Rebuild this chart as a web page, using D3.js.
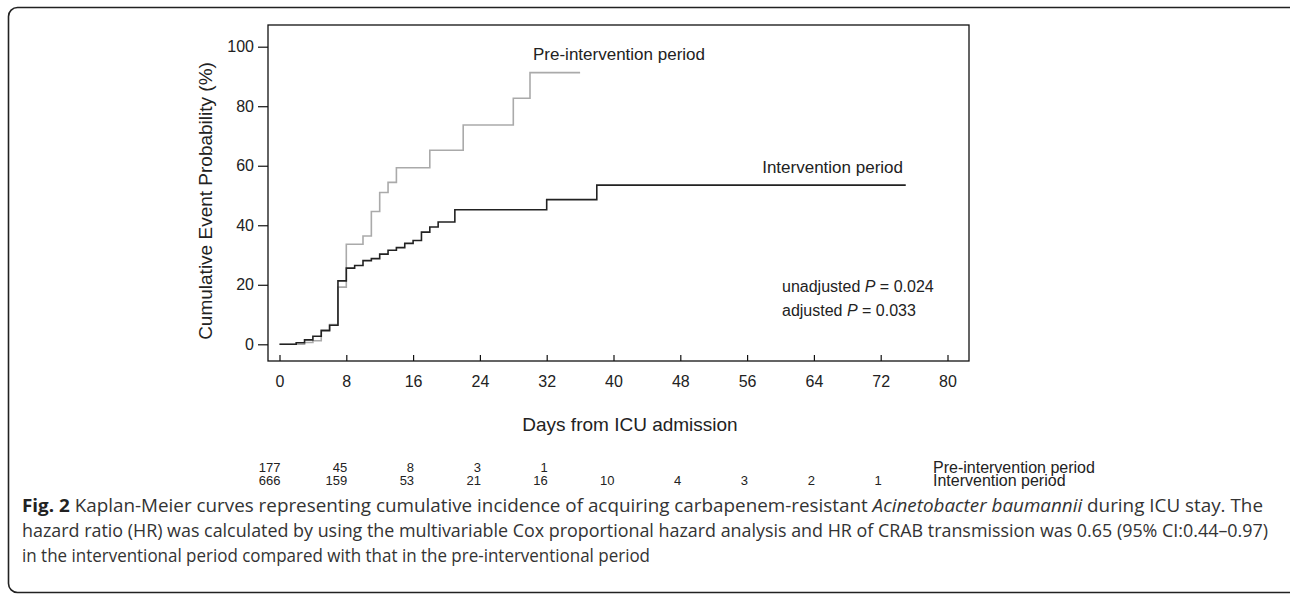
<!DOCTYPE html>
<html>
<head>
<meta charset="utf-8">
<script src="https://cdn.jsdelivr.net/npm/d3@7"></script>
<style>
  body { margin: 0; background: #fff; }
  svg text { font-family: "Liberation Sans", Arial, sans-serif; fill: #222; }
  svg text.cap { font-family: "Open Sans", "Noto Sans", sans-serif; fill: #333; }
</style>
</head>
<body>
<svg id="chart" width="1290" height="595"></svg>
<script>
// x ticks (days) and y ticks (%)
const xTicks = [0, 8, 16, 24, 32, 40, 48, 56, 64, 72, 80];
const yTicks = [0, 20, 40, 60, 80, 100];

// Pre-intervention period: step times (days) and cumulative event probability (%)
const preDays   = [0, 3, 4, 5, 6, 7, 8, 10, 11, 12, 13, 14, 18, 22, 28, 30, 36];
const preValues = [0, 0.6, 1.2, 4.8, 6.6, 19.2, 33.6, 36.4, 44.6, 51.0, 54.4, 59.3, 65.2, 73.7, 82.7, 91.3, 91.3];

// Intervention period
const intDays   = [0, 2, 3, 4, 5, 6, 7, 8, 9, 10, 11, 12, 13, 14, 15, 16, 17, 18, 19, 21, 32, 38, 75];
const intValues = [0, 0.5, 1.5, 2.7, 4.6, 6.4, 21.3, 25.6, 26.5, 28.1, 28.8, 30.3, 31.6, 32.5, 33.9, 34.9, 37.7, 39.4, 41.1, 45.2, 48.6, 53.5, 53.5];

// numbers at risk, at days 0, 8, 16, ...
const riskDays = [0, 8, 16, 24, 32, 40, 48, 56, 64, 72];
const preRisk  = [177, 45, 8, 3, 1];
const intRisk  = [666, 159, 53, 21, 16, 10, 4, 3, 2, 1];

const captionLines = [
  [["Fig. 2", "bold"], [" Kaplan-Meier curves representing cumulative incidence of acquiring carbapenem-resistant ", "normal"], ["Acinetobacter baumannii", "italic"], [" during ICU stay. The", "normal"]],
  [["hazard ratio (HR) was calculated by using the multivariable Cox proportional hazard analysis and HR of CRAB transmission was 0.65 (95% CI:0.44\u20130.97)", "normal"]],
  [["in the interventional period compared with that in the pre-interventional period", "normal"]]
];
const captionWidths = [1241, 1246, 628];

const svg = d3.select("#chart");

// outer rounded border
svg.append("rect")
   .attr("x", 8.5).attr("y", 7.5)
   .attr("width", 1300).attr("height", 585)
   .attr("rx", 9)
   .attr("fill", "none").attr("stroke", "#222").attr("stroke-width", 1.6);

const x = d3.scaleLinear().domain([0, 80]).range([279.5, 947.5]);
const y = d3.scaleLinear().domain([0, 100]).range([344.3, 46.7]);

// plot frame
svg.append("rect")
   .attr("x", 268).attr("y", 25)
   .attr("width", 701).attr("height", 336)
   .attr("fill", "none").attr("stroke", "#111").attr("stroke-width", 1.3);

// y axis (ticks out to the left)
const yAxis = svg.append("g")
   .attr("transform", "translate(268,0)")
   .call(d3.axisLeft(y).tickValues(yTicks).tickSize(10).tickPadding(4));
yAxis.select(".domain").remove();
yAxis.selectAll("line").attr("stroke", "#111").attr("stroke-width", 1.2);
yAxis.selectAll("text").attr("font-size", 16).attr("font-family", null).attr("fill", "#222");

// x axis: ticks point up from the bottom of the frame
const xAxis = svg.append("g")
   .attr("transform", "translate(0,361)")
   .call(d3.axisBottom(x).tickValues(xTicks).tickSizeInner(-6).tickSizeOuter(0).tickPadding(15));
xAxis.select(".domain").remove();
xAxis.selectAll("line").attr("stroke", "#111").attr("stroke-width", 1.2);
xAxis.selectAll("text").attr("font-size", 16).attr("font-family", null).attr("fill", "#222");

// axis titles
svg.append("text")
   .attr("x", 630).attr("y", 431)
   .attr("text-anchor", "middle").attr("font-size", 19)
   .text("Days from ICU admission");
svg.append("text")
   .attr("transform", "translate(212,201) rotate(-90)")
   .attr("text-anchor", "middle").attr("font-size", 19)
   .text("Cumulative Event Probability (%)");

// curves
const step = d3.line()
   .x(d => x(d[0]))
   .y(d => y(d[1]))
   .curve(d3.curveStepAfter);

svg.append("path")
   .datum(d3.zip(preDays, preValues))
   .attr("d", step)
   .attr("fill", "none").attr("stroke", "#aaa").attr("stroke-width", 1.6);

svg.append("path")
   .datum(d3.zip(intDays, intValues))
   .attr("d", step)
   .attr("fill", "none").attr("stroke", "#222").attr("stroke-width", 1.6);

// curve labels
svg.append("text")
   .attr("x", 533).attr("y", 60).attr("font-size", 17)
   .text("Pre-intervention period");
svg.append("text")
   .attr("x", 903).attr("y", 172.5).attr("font-size", 17)
   .attr("text-anchor", "end")
   .text("Intervention period");

// p values
const pv = svg.append("g").attr("font-size", 16);
const p1 = pv.append("text").attr("x", 782).attr("y", 292);
p1.append("tspan").text("unadjusted ");
p1.append("tspan").attr("font-style", "italic").text("P");
p1.append("tspan").text(" = 0.024");
const p2 = pv.append("text").attr("x", 782).attr("y", 315.5);
p2.append("tspan").text("adjusted ");
p2.append("tspan").attr("font-style", "italic").text("P");
p2.append("tspan").text(" = 0.033");

// numbers at risk
const risk = svg.append("g").attr("font-size", 13).attr("text-anchor", "end");
risk.selectAll("text.pre")
   .data(preRisk)
   .join("text")
   .attr("class", "pre")
   .attr("x", (d, i) => x(riskDays[i]) + 1)
   .attr("y", 472)
   .text(d => d);
risk.selectAll("text.int")
   .data(intRisk)
   .join("text")
   .attr("class", "int")
   .attr("x", (d, i) => x(riskDays[i]) + 1)
   .attr("y", 485)
   .text(d => d);
svg.append("text").attr("x", 933).attr("y", 472.5).attr("font-size", 16).text("Pre-intervention period");
svg.append("text").attr("x", 933).attr("y", 486).attr("font-size", 16).text("Intervention period");

// caption
const capY = [512, 537, 562];
captionLines.forEach((parts, li) => {
  const t = svg.append("text")
     .attr("class", "cap")
     .attr("x", 22).attr("y", capY[li])
     .attr("font-size", 17.5)
     .attr("textLength", captionWidths[li])
     .attr("lengthAdjust", "spacingAndGlyphs");
  parts.forEach(p => {
    const s = t.append("tspan").text(p[0]);
    if (p[1] === "bold") s.attr("font-weight", "bold").attr("fill", "#222");
    if (p[1] === "italic") s.attr("font-style", "italic");
  });
});
</script>
</body>
</html>
